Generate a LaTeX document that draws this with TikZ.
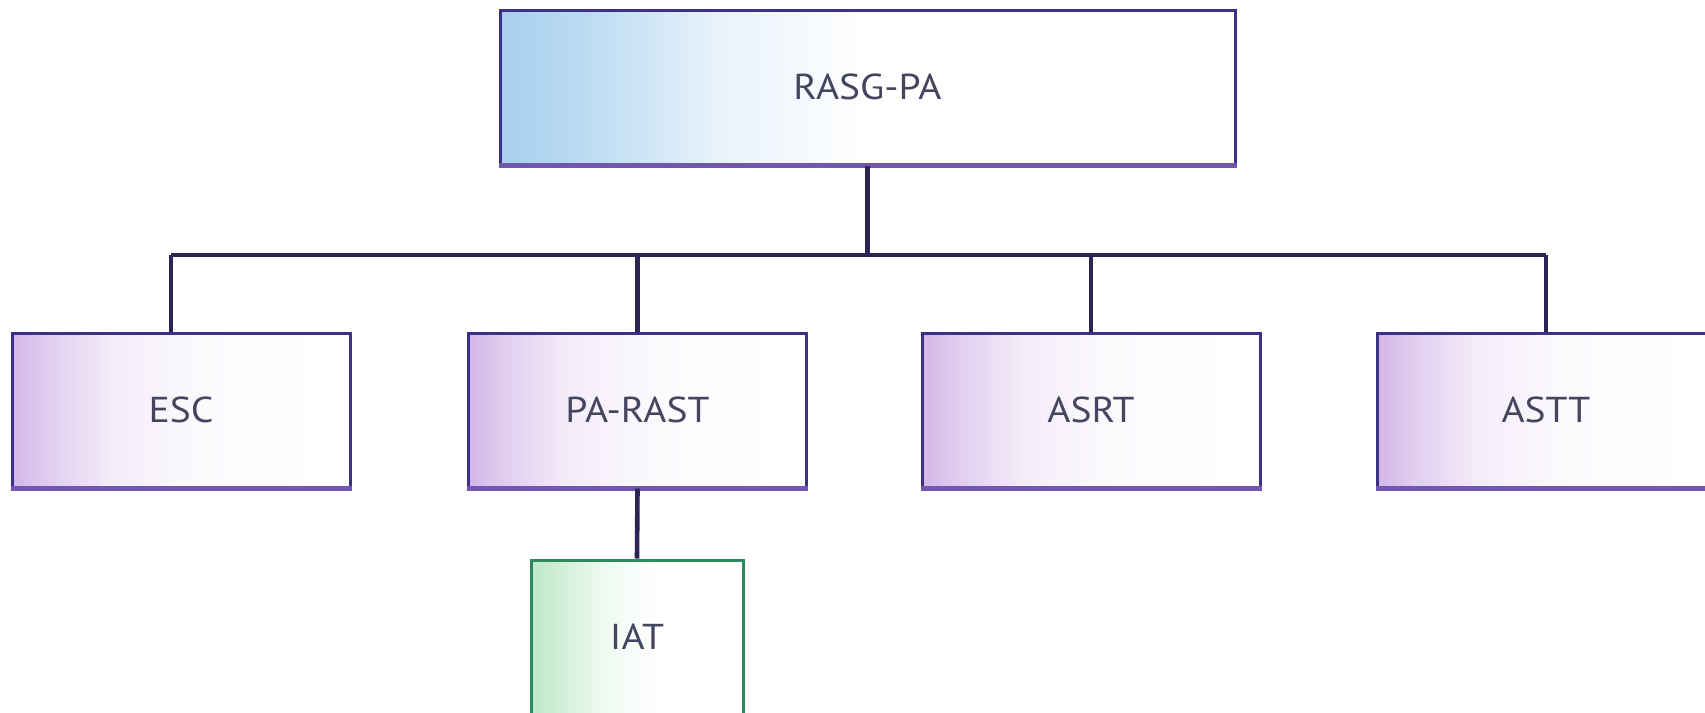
\documentclass[tikz,border=0pt]{standalone}
\usepackage{fontspec}
\setmainfont{PT Sans}[FakeStretch=1.1]
\definecolor{lineclr}{HTML}{2B2555}
\definecolor{bordclr}{HTML}{3D3185}
\definecolor{botclr}{HTML}{7158AE}
\definecolor{txtclr}{HTML}{45455F}
\definecolor{bluefill}{HTML}{A6CFEE}
\definecolor{purpfill}{HTML}{D3B6E8}
\definecolor{greenfill}{HTML}{BDE8C6}
\definecolor{greenbord}{HTML}{2E8A5A}
\pgfdeclarehorizontalshading{bluefade}{100bp}{color(0bp)=(bluefill); color(25bp)=(bluefill); color(31bp)=(bluefill!75); color(40bp)=(bluefill!25); color(50bp)=(white); color(100bp)=(white)}
\pgfdeclarehorizontalshading{purpfade}{100bp}{color(0bp)=(purpfill); color(25bp)=(purpfill); color(30bp)=(purpfill!70); color(40bp)=(purpfill!25); color(52bp)=(purpfill!8); color(70bp)=(white); color(100bp)=(white)}
\pgfdeclarehorizontalshading{greenfade}{100bp}{color(0bp)=(greenfill); color(25bp)=(greenfill); color(32bp)=(greenfill!70); color(42bp)=(greenfill!25); color(55bp)=(white); color(100bp)=(white)}
\tikzset{
  box/.style={rectangle, draw=bordclr, line width=1.5pt, text=txtclr,
    font=\fontsize{18}{20}\selectfont, minimum height=77pt, inner sep=0pt},
  topbox/.style={box, shading=bluefade, minimum width=367.5pt},
  midbox/.style={box, shading=purpfade, minimum width=169pt},
  leafbox/.style={box, shading=greenfade, draw=greenbord, minimum width=106pt},
  conn/.style={draw=lineclr, line width=2.3pt},
  botedge/.style={draw=botclr, line width=2.2pt}
}
\begin{document}
\begin{tikzpicture}[x=0.5pt,y=-0.5pt]
\useasboundingbox (0,0) rectangle (1705,713);
\clip (0,0) rectangle (1705,713);
\fill[white] (0,0) rectangle (1705,713);
\node[topbox] (rasg) at (867.5,87) {RASG-PA};
\node[midbox] (esc) at (181,410) {ESC};
\node[midbox] (parast) at (637.5,410) {PA-RAST};
\node[midbox] (asrt) at (1091,410) {ASRT};
\node[midbox] (astt) at (1546,410) {ASTT};
\node[leafbox] (iat) at (637,637) {IAT};
\foreach \n in {rasg,esc,parast,asrt,astt}{
  \draw[botedge] (\n.south west) -- (\n.south east);
}
\coordinate (bus) at (867.5,255);
\coordinate (busl) at (171,255);
\coordinate (busr) at (1546,255);
\draw[conn] (rasg.south) -- (bus);
\draw[conn] (busl) -- (busr);
\draw[conn] (busl) -- ([xshift=-5pt]esc.north);
\draw[conn] (parast.north |- bus) -- (parast.north);
\draw[conn] (asrt.north |- bus) -- (asrt.north);
\draw[conn] (busr) -- (astt.north);
\draw[conn] (parast.south) -- (iat.north);
\end{tikzpicture}
\end{document}
